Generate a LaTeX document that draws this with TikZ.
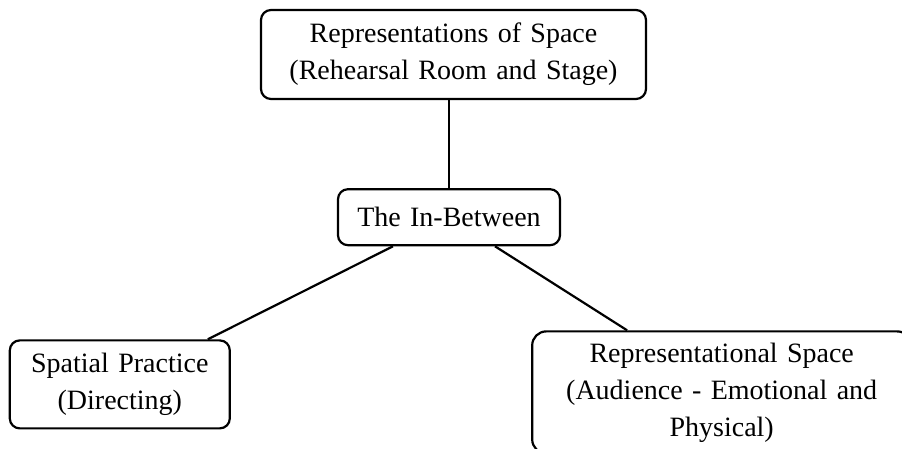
\documentclass[tikz,border=0pt]{standalone}
\usepackage{fontspec}
\setmainfont{Liberation Serif}
\usetikzlibrary{positioning}

\begin{document}
\begin{tikzpicture}[-,x=0.5pt,y=-0.5pt,line width=1.1pt,auto,
	font=\fontsize{14}{18.5}\selectfont]
	\tikzstyle{concept}=[draw=black,rounded corners=5pt,inner sep=0pt,align=center]

	\useasboundingbox (0,0) rectangle (902,449);

	\node[concept,text width=192.5pt,minimum height=44.5pt] (top) at (453.5,54.5) {Representations of Space\\(Rehearsal Room and Stage)};
	\node[concept,text width=111pt,minimum height=28pt] (mid) [below=44pt of top,xshift=-2.25pt] {The In-Between};
	\node[concept,text width=110pt,minimum height=44pt] (left) [below left=46.5pt and 53pt of mid] {Spatial Practice\\(Directing)};
	\node[concept,rounded corners=7pt,text width=189.5pt,minimum height=61pt] (right) [below right=42pt and -15pt of mid] {Representational Space\\(Audience - Emotional and\\Physical)};

	\path
	(mid.north) edge (mid.north |- top.south)
	([xshift=-28pt]mid.south) edge ([xshift=44pt]left.north)
	([xshift=23pt]mid.south) edge ([xshift=48pt]right.north west)
	;
\end{tikzpicture}
\end{document}
